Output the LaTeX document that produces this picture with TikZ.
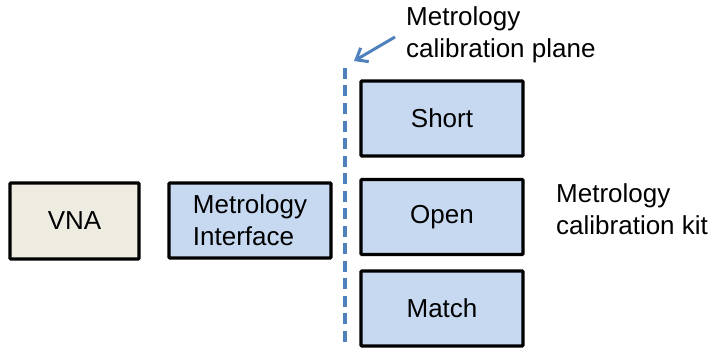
\documentclass[tikz,border=0pt]{standalone}
\usepackage{fontspec}
\setmainfont{Liberation Sans}
\usetikzlibrary{arrows.meta}
\definecolor{boxblue}{HTML}{C6D9F1}
\definecolor{boxgrey}{HTML}{EEECE1}
\definecolor{lineblue}{HTML}{4F81BD}
\begin{document}
\begin{tikzpicture}[x=1pt,y=-1pt,
  blk/.style={draw=black, line width=3.2pt, rounded corners=1pt, font=\fontsize{26}{32}\selectfont, align=center, inner sep=0pt},
  lbl/.style={font=\fontsize{26}{32}\selectfont, align=left, inner sep=0pt, anchor=west}]
\useasboundingbox (0,0) rectangle (711,350);
\node[blk, fill=boxgrey, minimum width=129pt, minimum height=76pt] (vna) at (74.5,221) {VNA};
\node[blk, fill=boxblue, minimum width=162pt, minimum height=75pt, align=left] (mi) at (250,220.5) {Metrology\\Interface};
\node[blk, fill=boxblue, minimum width=162pt, minimum height=75pt] (short) at (442,118.5) {Short};
\node[blk, fill=boxblue, minimum width=162pt, minimum height=75pt] (open) at (442,217) {Open};
\node[blk, fill=boxblue, minimum width=162pt, minimum height=75pt] (match) at (442,308.5) {Match};
\coordinate (ptop) at (345,68);
\coordinate (pbot) at (345,342);
\draw[lineblue, line width=3.2pt, dash pattern=on 11pt off 6.5pt] (ptop) -- (pbot);
\node[lbl] (plane) at (406,35) {Metrology\\calibration plane};
\node[lbl] (kit) at (556,209) {Metrology\\calibration kit};
\coordinate (atail) at (395,37);
\coordinate (ahead) at (354,61);
\draw[lineblue, line width=3pt, -{Straight Barb[length=10pt,width=16pt]}] (atail) -- (ahead);
\end{tikzpicture}
\end{document}
